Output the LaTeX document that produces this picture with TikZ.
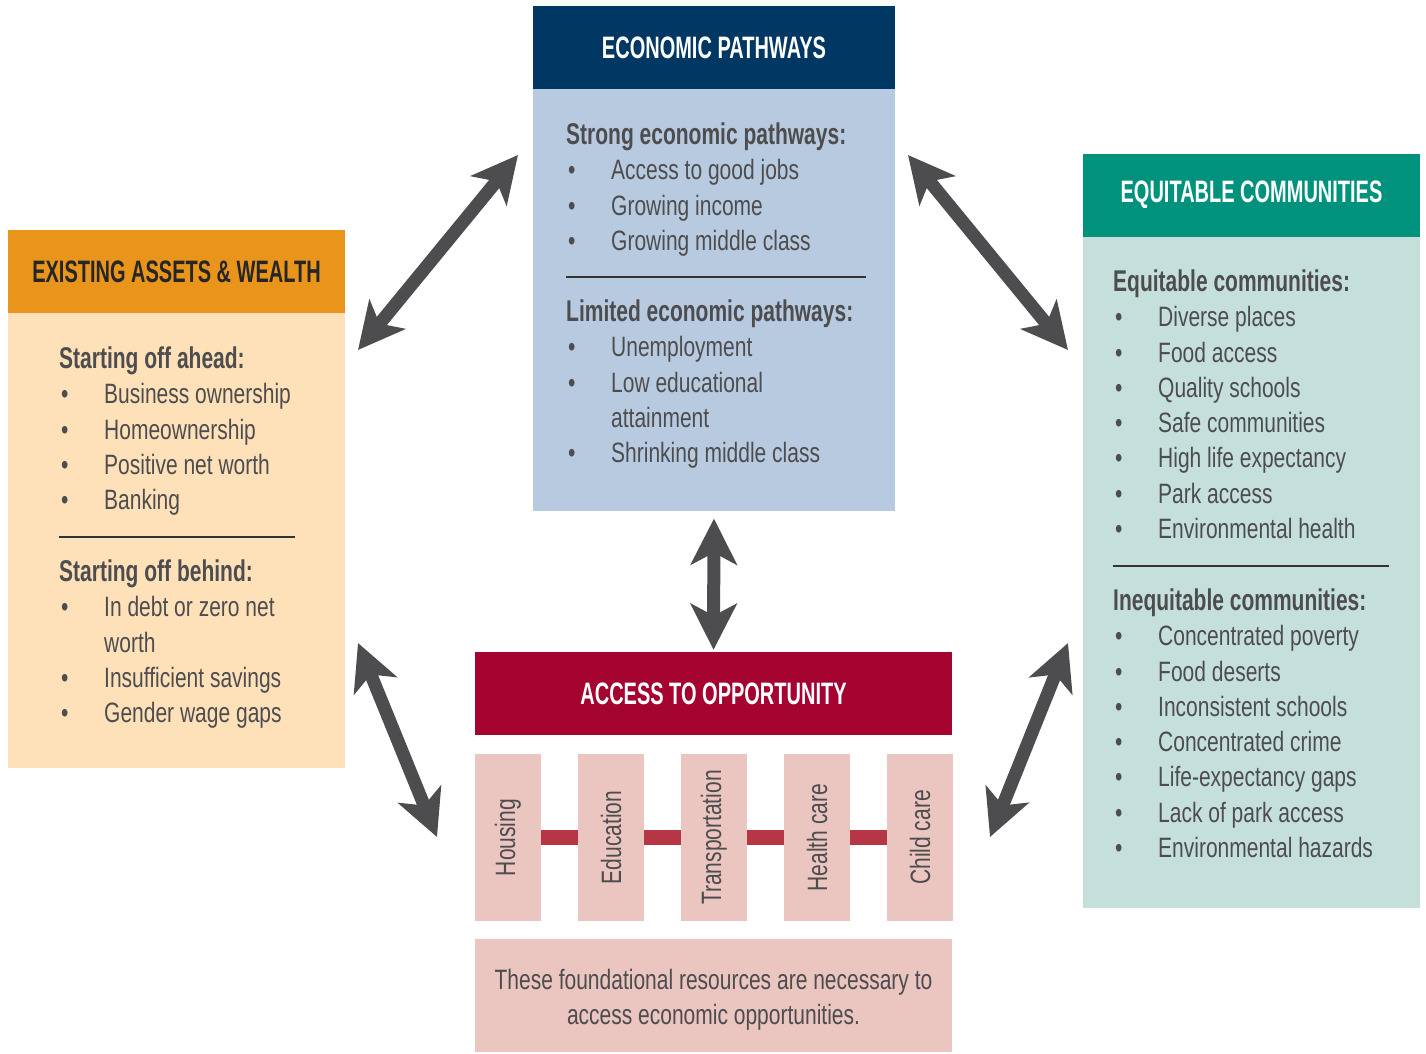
\documentclass[tikz,border=0pt]{standalone}
\usepackage{fontspec}
\setmainfont{Liberation Sans}[FakeStretch=0.75]
\newfontfamily\titlefont{Liberation Sans}[FakeStretch=0.645]
\newfontfamily\headfont{Liberation Sans}[FakeStretch=0.70]
\usetikzlibrary{arrows.meta,positioning}

\definecolor{epdark}{HTML}{003763}
\definecolor{eplight}{HTML}{B8CADF}
\definecolor{eaorange}{HTML}{E9951B}
\definecolor{ealight}{HTML}{FEE1B9}
\definecolor{ecteal}{HTML}{00927C}
\definecolor{eclight}{HTML}{C5E0DB}
\definecolor{aocrimson}{HTML}{A50330}
\definecolor{aopink}{HTML}{EBC5C0}
\definecolor{aobar}{HTML}{B73645}
\definecolor{txtgray}{HTML}{4D4D4F}
\definecolor{rulegray}{HTML}{333333}

\newcommand{\itm}{\hspace*{2pt}\makebox[43pt][l]{\textbullet}}
\newcommand{\cnt}{\hspace*{45pt}}
\newcommand{\hd}[1]{{\headfont\bfseries\fontsize{30}{35.3}\selectfont #1}}

\tikzset{
  head/.style={minimum height=83pt, inner sep=0pt, text=white,
    font=\titlefont\bfseries\fontsize{31}{36}\selectfont},
  body/.style={inner sep=0pt},
  listtxt/.style={anchor=north west, inner sep=0pt, align=left, text=txtgray,
    font=\fontsize{28}{35.3}\selectfont},
  pillar/.style={rotate=90, minimum width=167pt, minimum height=66pt, inner sep=0pt,
    fill=aopink, text=txtgray, font=\fontsize{28}{34}\selectfont},
  twoway/.style={draw=txtgray, line width=13pt,
    {Stealth[length=46pt,width=46pt,inset=12pt]}-{Stealth[length=46pt,width=46pt,inset=12pt]}},
  seprule/.style={draw=rulegray, line width=1.4pt},
  bar/.style={draw=aobar, line width=15pt}
}

\begin{document}
\begin{tikzpicture}[x=1pt,y=-1pt]
  \useasboundingbox (0,0) rectangle (1426,1053);

  % economic pathways
  \node[head, fill=epdark, minimum width=362pt] (ep-head) at (714,47.5) {ECONOMIC PATHWAYS};
  \node[body, fill=eplight, minimum width=362pt, minimum height=422pt, below=0pt of ep-head] (ep-body) {};
  \node[listtxt] (ep-strong) at (566,122.5) {\hd{Strong economic pathways:}\\
    \itm Access to good jobs\\ \itm Growing income\\ \itm Growing middle class};
  \coordinate (ep-rule-l) at (566,277);
  \coordinate (ep-rule-r) at (866,277);
  \draw[seprule] (ep-rule-l) -- (ep-rule-r);
  \node[listtxt] (ep-limited) at (566,299.5) {\hd{Limited economic pathways:}\\
    \itm Unemployment\\ \itm Low educational\\ \cnt attainment\\ \itm Shrinking middle class};

  % existing assets & wealth
  \node[head, fill=eaorange, text=black!85, minimum width=337pt] (ea-head) at (176.5,271.5) {EXISTING ASSETS \& WEALTH};
  \node[body, fill=ealight, minimum width=337pt, minimum height=455pt, below=0pt of ea-head] (ea-body) {};
  \node[listtxt] (ea-ahead) at (59,346.5) {\hd{Starting off ahead:}\\
    \itm Business ownership\\ \itm Homeownership\\ \itm Positive net worth\\ \itm Banking};
  \coordinate (ea-rule-l) at (59,537);
  \coordinate (ea-rule-r) at (295,537);
  \draw[seprule] (ea-rule-l) -- (ea-rule-r);
  \node[listtxt] (ea-behind) at (59,559.5) {\hd{Starting off behind:}\\
    \itm In debt or zero net\\ \cnt worth\\ \itm Insufficient savings\\ \itm Gender wage gaps};

  % equitable communities
  \node[head, fill=ecteal, minimum width=337pt] (ec-head) at (1251.5,195) {EQUITABLE COMMUNITIES};
  \node[body, fill=eclight, minimum width=337pt, minimum height=671pt, below=0pt of ec-head] (ec-body) {};
  \node[listtxt] (ec-equit) at (1113,269.5) {\hd{Equitable communities:}\\
    \itm Diverse places\\ \itm Food access\\ \itm Quality schools\\ \itm Safe communities\\
    \itm High life expectancy\\ \itm Park access\\ \itm Environmental health};
  \coordinate (ec-rule-l) at (1113,566);
  \coordinate (ec-rule-r) at (1389,566);
  \draw[seprule] (ec-rule-l) -- (ec-rule-r);
  \node[listtxt] (ec-inequit) at (1113,588.5) {\hd{Inequitable communities:}\\
    \itm Concentrated poverty\\ \itm Food deserts\\ \itm Inconsistent schools\\ \itm Concentrated crime\\
    \itm Life-expectancy gaps\\ \itm Lack of park access\\ \itm Environmental hazards};

  % access to opportunity
  \node[head, fill=aocrimson, minimum width=477pt] (ao-head) at (713.5,693.5) {ACCESS TO OPPORTUNITY};
  \node[pillar] (housing) at (508,837.5) {Housing};
  \node[pillar] (education) at (611,837.5) {Education};
  \node[pillar] (transport) at (714,837.5) {Transportation};
  \node[pillar] (health) at (817,837.5) {Health care};
  \node[pillar] (childcare) at (920,837.5) {Child care};
  \foreach \a/\b in {housing/education, education/transport, transport/health, health/childcare}
    \draw[bar] (\a.south) -- (\b.north);
  \node[body, fill=aopink, minimum width=477pt, minimum height=113pt] (ao-note) at (713.5,995.5) {};
  \node[align=center, inner sep=0pt, text=txtgray, font=\fontsize{28}{35}\selectfont]
    (ao-note-txt) at (713.5,1000) {These foundational resources are necessary to\\access economic opportunities.};

  % two-way arrows
  \coordinate (ea-top) at (358,350);
  \coordinate (ep-left) at (518,155);
  \coordinate (ep-right) at (908,155);
  \coordinate (ec-top) at (1068,350);
  \coordinate (ea-low) at (358,643);
  \coordinate (ao-left) at (437,837);
  \coordinate (ec-low) at (1068,643);
  \coordinate (ao-right) at (990,837);
  \draw[twoway] (ea-top) -- (ep-left);
  \draw[twoway] (ep-right) -- (ec-top);
  \draw[twoway, shorten <=7pt, shorten >=2pt] (ep-body.south) -- (ao-head.north);
  \draw[twoway] (ea-low) -- (ao-left);
  \draw[twoway] (ec-low) -- (ao-right);
\end{tikzpicture}
\end{document}
